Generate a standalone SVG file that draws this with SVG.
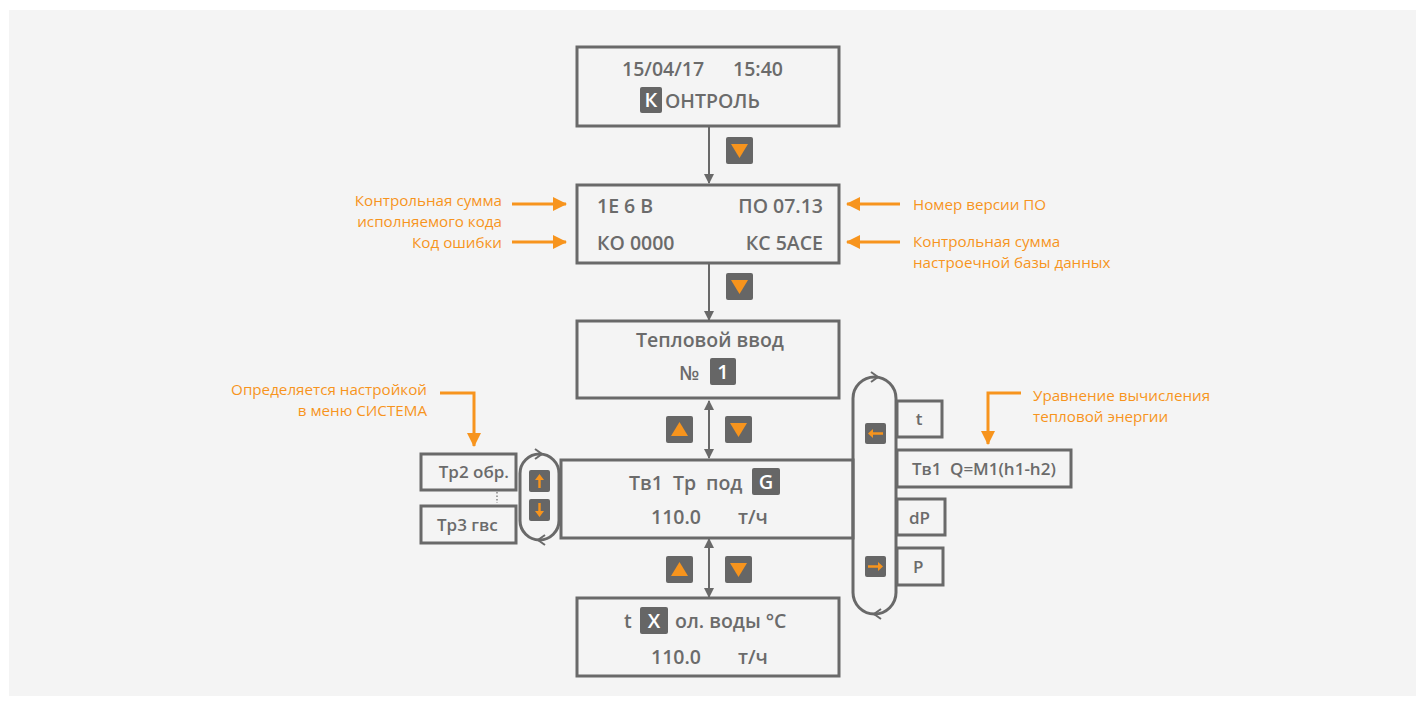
<svg xmlns="http://www.w3.org/2000/svg" width="1426" height="706" viewBox="0 0 1426 706">
<defs>
<style>
.box{fill:none;stroke:#696969;stroke-width:3}
.ln{fill:none;stroke:#696969;stroke-width:2}
.or{fill:none;stroke:#f7941d;stroke-width:3}
.t{font-family:"Open Sans","Liberation Sans",sans-serif;font-weight:600;font-size:19.5px;fill:#6b6b6b}
.ts{font-family:"Open Sans","Liberation Sans",sans-serif;font-weight:600;font-size:17px;fill:#6b6b6b}
.lab{font-family:"Open Sans","Liberation Sans",sans-serif;font-size:15.2px;fill:#f7941d}
.kb{fill:#666}
.kt{font-family:"Open Sans","Liberation Sans",sans-serif;font-weight:600;font-size:20px;fill:#fff}
.tri{fill:#f7941d}
</style>
<marker id="ah" markerWidth="10" markerHeight="10" refX="9" refY="5" orient="auto" markerUnits="userSpaceOnUse" viewBox="0 0 10 10">
<path d="M0,0 L10,5 L0,10 z" fill="#696969"/>
</marker>
<marker id="oh" markerWidth="14" markerHeight="14" refX="13" refY="7" orient="auto" markerUnits="userSpaceOnUse" viewBox="0 0 14 14">
<path d="M0,0 L14,7 L0,14 z" fill="#f7941d"/>
</marker>
</defs>
<rect x="0" y="0" width="1426" height="706" fill="#fff"/>
<rect x="9" y="10" width="1407" height="686" fill="#f4f4f4"/>

<g id="connectors">
<line class="ln" x1="709" y1="127" x2="709" y2="183" marker-end="url(#ah)"/>
<line class="ln" x1="709" y1="264" x2="709" y2="320" marker-end="url(#ah)"/>
<line class="ln" x1="709" y1="430" x2="709" y2="458" marker-end="url(#ah)"/>
<line class="ln" x1="709" y1="430" x2="709" y2="401" marker-end="url(#ah)"/>
<line class="ln" x1="709" y1="568" x2="709" y2="597" marker-end="url(#ah)"/>
<line class="ln" x1="709" y1="568" x2="709" y2="539" marker-end="url(#ah)"/>
<line class="or" x1="512" y1="204" x2="566" y2="204" marker-end="url(#oh)"/>
<line class="or" x1="512" y1="242" x2="566" y2="242" marker-end="url(#oh)"/>
<line class="or" x1="900" y1="204" x2="847" y2="204" marker-end="url(#oh)"/>
<line class="or" x1="900" y1="242" x2="847" y2="242" marker-end="url(#oh)"/>
<polyline class="or" points="440,393 474,393 474,446" marker-end="url(#oh)"/>
<polyline class="or" points="1021,393 988,393 988,444" marker-end="url(#oh)"/>
<rect class="box" x="520" y="454" width="39" height="86" rx="19.5"/>
<path class="ln" d="M535,449 L542,454 L535,459" stroke-width="2.5"/>
<path class="ln" d="M545,535 L538,540 L545,545" stroke-width="2.5"/>
<rect class="box" x="853" y="377" width="43" height="237" rx="21.5"/>
<path class="ln" d="M871,372 L878,377 L871,382" stroke-width="2.5"/>
<path class="ln" d="M881,609 L874,614 L881,619" stroke-width="2.5"/>
<line x1="497" y1="492" x2="497" y2="503" stroke="#696969" stroke-width="1.2" stroke-dasharray="1.5,2"/>
</g>

<g id="n-control">
<rect class="box" x="577" y="47" width="262" height="79"/>
<text class="t" x="622" y="76">15/04/17</text>
<text class="t" x="733" y="76">15:40</text>
<rect class="kb" x="640" y="87" width="22" height="26" rx="2"/>
<text class="kt" x="651" y="107" text-anchor="middle">К</text>
<text class="t" x="665" y="108">ОНТРОЛЬ</text>
</g>
<g id="k1">
<rect class="kb" x="726" y="137" width="27" height="27" rx="2"/>
<path class="tri" d="M731,144 L748,144 L739.5,158 z"/>
</g>

<g id="n-version">
<rect class="box" x="577" y="185" width="262" height="78"/>
<text class="t" x="597" y="213">1E 6 B</text>
<text class="t" x="823" y="213" text-anchor="end">ПО 07.13</text>
<text class="t" x="597" y="250">КО 0000</text>
<text class="t" x="823" y="250" text-anchor="end">КС 5АСЕ</text>
</g>
<g id="labels-version">
<text class="lab" x="502" y="206" text-anchor="end">Контрольная сумма</text>
<text class="lab" x="502" y="227" text-anchor="end">исполняемого кода</text>
<text class="lab" x="502" y="248" text-anchor="end">Код ошибки</text>
<text class="lab" x="913" y="210">Номер версии ПО</text>
<text class="lab" x="913" y="247">Контрольная сумма</text>
<text class="lab" x="913" y="268">настроечной базы данных</text>
</g>
<g id="k2">
<rect class="kb" x="726" y="273" width="27" height="27" rx="2"/>
<path class="tri" d="M731,280 L748,280 L739.5,294 z"/>
</g>

<g id="n-input">
<rect class="box" x="577" y="321" width="262" height="77"/>
<text class="t" x="710" y="347" text-anchor="middle">Тепловой ввод</text>
<text class="t" x="679" y="380">№</text>
<rect class="kb" x="710" y="358" width="26" height="27" rx="2"/>
<text class="kt" x="723" y="379" text-anchor="middle">1</text>
</g>
<g id="k3">
<rect class="kb" x="666" y="416" width="27" height="27" rx="2"/>
<path class="tri" d="M671,436 L688,436 L679.5,422 z"/>
<rect class="kb" x="725" y="416" width="27" height="27" rx="2"/>
<path class="tri" d="M730,423 L747,423 L738.5,437 z"/>
</g>

<g id="n-main">
<rect class="box" x="561" y="460" width="292" height="78"/>
<text class="t" x="629" y="490">Тв1</text>
<text class="t" x="673" y="490">Тр</text>
<text class="t" x="706" y="490">под</text>
<rect class="kb" x="752" y="468" width="28" height="27" rx="2"/>
<text class="kt" x="766" y="489" text-anchor="middle">G</text>
<text class="t" x="651" y="524">110.0</text>
<text class="t" x="738" y="524">т/ч</text>
</g>
<g id="k4">
<rect class="kb" x="666" y="556" width="27" height="27" rx="2"/>
<path class="tri" d="M671,576 L688,576 L679.5,562 z"/>
<rect class="kb" x="725" y="556" width="27" height="27" rx="2"/>
<path class="tri" d="M730,563 L747,563 L738.5,577 z"/>
</g>

<g id="n-cold">
<rect class="box" x="577" y="598" width="262" height="78"/>
<text class="t" x="624" y="628">t</text>
<rect class="kb" x="640" y="607" width="28" height="27" rx="2"/>
<text class="kt" x="654" y="628" text-anchor="middle">X</text>
<text class="t" x="675" y="628">ол. воды °С</text>
<text class="t" x="651" y="664">110.0</text>
<text class="t" x="738" y="664">т/ч</text>
</g>

<g id="n-tr2">
<rect class="box" x="421" y="454" width="95" height="36"/>
<text class="ts" x="509" y="478" text-anchor="end">Тр2 обр.</text>
</g>
<g id="n-tr3">
<rect class="box" x="421" y="506" width="95" height="37"/>
<text class="ts" x="437" y="531">Тр3 гвс</text>
</g>
<g id="k-updown">
<rect class="kb" x="529" y="470" width="21" height="22" rx="2"/>
<path d="M539.5,474 L535,480 L538.3,480 L538.3,488 L540.7,488 L540.7,480 L544,480 z" fill="#f7941d"/>
<rect class="kb" x="529" y="499" width="21" height="22" rx="2"/>
<path d="M539.5,517 L535,511 L538.3,511 L538.3,503 L540.7,503 L540.7,511 L544,511 z" fill="#f7941d"/>
</g>
<g id="label-system">
<text class="lab" x="427" y="395" text-anchor="end">Определяется настройкой</text>
<text class="lab" x="427" y="416" text-anchor="end">в меню СИСТЕМА</text>
</g>

<g id="k-leftright">
<rect class="kb" x="865" y="423" width="21" height="21" rx="2"/>
<path d="M868,433.5 L873,429 L873,432.3 L883,432.3 L883,434.7 L873,434.7 L873,438 z" fill="#f7941d"/>
<rect class="kb" x="865" y="556" width="21" height="21" rx="2"/>
<path d="M883,566.5 L878,562 L878,565.3 L868,565.3 L868,567.7 L878,567.7 L878,571 z" fill="#f7941d"/>
</g>
<g id="n-t">
<rect class="box" x="897" y="401" width="45" height="36"/>
<text class="ts" x="919" y="425" text-anchor="middle">t</text>
</g>
<g id="n-eq">
<rect class="box" x="897" y="450" width="174" height="37"/>
<text class="ts" x="912" y="475">Тв1</text>
<text class="ts" x="950" y="475">Q=M1(h1-h2)</text>
</g>
<g id="n-dp">
<rect class="box" x="897" y="499" width="48" height="36"/>
<text class="ts" x="909" y="524">dP</text>
</g>
<g id="n-p">
<rect class="box" x="897" y="548" width="46" height="37"/>
<text class="ts" x="913" y="573">P</text>
</g>
<g id="label-eq">
<text class="lab" x="1033" y="401">Уравнение вычисления</text>
<text class="lab" x="1033" y="422">тепловой энергии</text>
</g>
</svg>
